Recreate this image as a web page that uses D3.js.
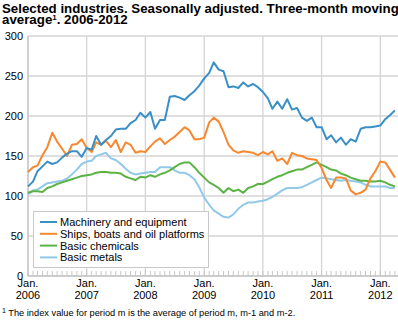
<!DOCTYPE html>
<html>
<head>
<meta charset="utf-8">
<script src="https://cdn.jsdelivr.net/npm/d3@7/dist/d3.min.js"></script>
<style>
  body { margin: 0; background: #fff; }
  svg { display: block; font-family: "Liberation Sans", Arial, sans-serif; }
</style>
</head>
<body>
<div id="chart"></div>
<script>
// monthly index values, Jan 2006 - Apr 2012
const startYear = 2006;
const machinery = [112, 118, 131, 137, 143, 140, 142, 148, 153, 156,
  156, 149, 160, 158, 175, 164, 170, 175, 183, 184,
  184, 191, 195, 204, 198, 205, 184, 195, 195, 224,
  225, 223, 220, 226, 231, 238, 247, 254, 267, 258,
  256, 236, 237, 235, 242, 237, 240, 236, 230, 222,
  209, 218, 209, 221, 208, 210, 198, 194, 198, 186,
  186, 171, 176, 167, 173, 164, 171, 168, 184, 186,
  186, 187, 188, 196, 201, 207];
const ships = [130, 136, 138, 151, 161, 179, 168, 159, 150, 164,
  165, 171, 160, 155, 167, 164, 169, 161, 170, 155,
  167, 164, 154, 156, 155, 162, 168, 172, 165, 170,
  174, 180, 186, 182, 171, 171, 173, 192, 198, 193,
  180, 164, 157, 154, 156, 155, 154, 151, 155, 152,
  156, 144, 147, 140, 154, 151, 150, 147, 146, 145,
  135, 120, 110, 123, 123, 122, 107, 102, 104, 108,
  122, 131, 143, 142, 133, 123];
const chemicals = [104, 106, 106, 105, 110, 112, 115, 117, 119, 121,
  123, 125, 126, 127, 129, 130, 130, 129, 129, 128,
  124, 122, 120, 124, 123, 126, 124, 127, 129, 132,
  136, 140, 142, 142, 136, 129, 123, 117, 114, 110,
  104, 110, 106, 108, 104, 110, 112, 115, 115, 118,
  121, 124, 126, 129, 131, 133, 133, 136, 139, 142,
  139, 136, 133, 132, 128, 126, 123, 121, 119, 119,
  118, 118, 119, 117, 114, 112];
const metals = [102, 107, 108, 112, 116, 117, 118, 119, 122, 127,
  133, 140, 143, 144, 150, 152, 154, 147, 145, 140,
  134, 129, 127, 128, 129, 130, 130, 136, 136, 136,
  132, 129, 129, 126, 121, 111, 98, 89, 82, 78,
  74, 73, 77, 84, 89, 92, 92, 93, 94, 96,
  99, 103, 107, 110, 110, 110, 111, 114, 117, 120,
  123, 122, 121, 120, 119, 120, 119, 118, 117, 114,
  112, 112, 112, 112, 110, 110];

const seriesNames = ["Machinery and equipment", "Ships, boats and oil platforms",
  "Basic chemicals", "Basic metals"];
const seriesColors = ["#3a8fc6", "#f7882f", "#5cb345", "#92c8e8"];
const yTicks = [0, 50, 100, 150, 200, 250, 300];
const yearTicks = [2006, 2007, 2008, 2009, 2010, 2011, 2012];

const width = 398, height = 322;
const margin = {top: 36, right: 1, bottom: 46, left: 28};

const svg = d3.select("#chart").append("svg")
  .attr("width", width)
  .attr("height", height);

// title
const title = svg.append("text")
  .attr("x", 2)
  .attr("y", 13)
  .attr("font-size", 13.3)
  .attr("font-weight", "bold")
  .attr("fill", "#000");
title.append("tspan").attr("x", 2).attr("dy", 0)
  .text("Selected industries. Seasonally adjusted. Three-month moving");
const t2 = title.append("tspan").attr("x", 2).attr("dy", 11);
t2.append("tspan").text("average");
t2.append("tspan").attr("font-size", 8).attr("dy", -4).text("1");
t2.append("tspan").attr("dy", 4).text(". 2006-2012");

const x = d3.scaleTime()
  .domain([new Date(startYear, 0, 1), new Date(2012, 6, 1)])
  .range([margin.left, margin.left + 58.7 * 6.5]);
const y = d3.scaleLinear()
  .domain([0, 300])
  .range([276, 36]);

const monthDate = i => new Date(startYear, i, 1);

const g = svg.append("g");

// horizontal grid
g.selectAll(".hgrid")
  .data(yTicks.filter(d => d > 0))
  .join("line")
  .attr("x1", margin.left)
  .attr("x2", width)
  .attr("y1", d => y(d))
  .attr("y2", d => y(d))
  .attr("stroke", "#d4d4d4")
  .attr("stroke-width", 1.3);

// vertical grid at each January
g.selectAll(".vgrid")
  .data(yearTicks)
  .join("line")
  .attr("x1", d => x(new Date(d, 0, 1)))
  .attr("x2", d => x(new Date(d, 0, 1)))
  .attr("y1", y(300))
  .attr("y2", y(0))
  .attr("stroke", "#d4d4d4")
  .attr("stroke-width", 1.3);

// y labels
g.selectAll(".ylab")
  .data(yTicks)
  .join("text")
  .attr("x", 23)
  .attr("y", d => y(d) + 4)
  .attr("text-anchor", "end")
  .attr("font-size", 11)
  .attr("fill", "#000")
  .text(d => d);

// left axis
g.append("line")
  .attr("x1", margin.left).attr("x2", margin.left)
  .attr("y1", y(300)).attr("y2", y(0))
  .attr("stroke", "#bdbdbd").attr("stroke-width", 1);

// lines
const line = d3.line()
  .x((d, i) => x(monthDate(i)))
  .y(d => y(d));

[machinery, ships, chemicals, metals].slice().reverse().forEach((s, k) => {
  g.append("path")
    .datum(s)
    .attr("fill", "none")
    .attr("stroke", seriesColors[3 - k])
    .attr("stroke-width", 2)
    .attr("stroke-linejoin", "round")
    .attr("d", line);
});

// legend
const lg = g.append("g");
lg.append("rect")
  .attr("x", 33.5).attr("y", 211.5)
  .attr("width", 175).attr("height", 56)
  .attr("fill", "#fff")
  .attr("stroke", "#c8c8c8");
seriesNames.forEach((name, i) => {
  const ly = 222 + i * 11.8;
  lg.append("line")
    .attr("x1", 40).attr("x2", 57)
    .attr("y1", ly).attr("y2", ly)
    .attr("stroke", seriesColors[i])
    .attr("stroke-width", 2);
  lg.append("text")
    .attr("x", 60).attr("y", ly + 4)
    .attr("font-size", 11)
    .attr("fill", "#000")
    .text(name);
});

// bottom axis with monthly ticks
const months = d3.range(0, 6 * 12 + 6).map(monthDate);
g.append("line")
  .attr("x1", margin.left).attr("x2", width)
  .attr("y1", y(0)).attr("y2", y(0))
  .attr("stroke", "#bdbdbd").attr("stroke-width", 1.5);
g.selectAll(".mtick")
  .data(months)
  .join("line")
  .attr("x1", d => x(d)).attr("x2", d => x(d))
  .attr("y1", y(0)).attr("y2", y(0) - 5)
  .attr("stroke", "#c8c8c8");

const xl = g.selectAll(".xlab")
  .data(yearTicks)
  .join("text")
  .attr("text-anchor", "middle")
  .attr("font-size", 11)
  .attr("fill", "#000");
xl.append("tspan")
  .attr("x", d => x(new Date(d, 0, 1)))
  .attr("y", 287)
  .text("Jan.");
xl.append("tspan")
  .attr("x", d => x(new Date(d, 0, 1)))
  .attr("y", 299)
  .text(d => d);

// footnote
const fn = svg.append("text")
  .attr("x", 2).attr("y", 316)
  .attr("font-size", 9.25)
  .attr("fill", "#000");
fn.append("tspan").attr("font-size", 7).attr("dy", -3).text("1");
fn.append("tspan").attr("dy", 3).text(" The index value for period m is the average of period m, m-1 and m-2.");
</script>
</body>
</html>
